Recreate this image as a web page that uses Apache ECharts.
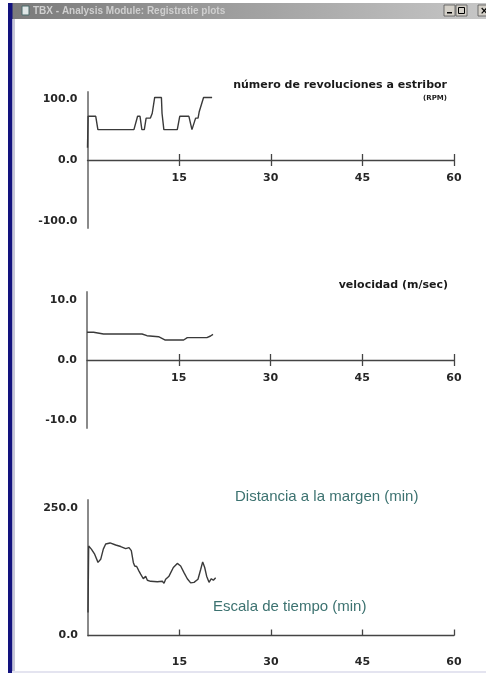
<!DOCTYPE html>
<html>
<head>
<meta charset="utf-8">
<script src="https://cdn.jsdelivr.net/npm/echarts@6/dist/echarts.min.js"></script>
<style>html,body{margin:0;padding:0;background:#fff;}#c{width:486px;height:673px;}</style>
</head>
<body>
<div id="c"></div>
<script>
// ---- data (time in minutes) ----
const rpmTime  = [0,0.1,1.35,1.7,7.6,8.2,8.6,8.9,9.3,9.6,10.3,10.6,10.8,11.0,12.1,12.2,12.5,14.7,15.1,16.6,17.1,17.4,17.7,18.1,18.3,18.6,19.0,20.4];
const rpmValue = [20,72,72,50,50,72,72,50,50,69,69,77,77,103,103,77,50,50,72,72,50,50,69,69,80,80,103,103];

const speedTime  = [0,1.07,2.7,7.1,7.4,8.2,9.0,9.8,11.7,12.8,15.8,16.4,19.6,20.2,20.6];
const speedValue = [4.62,4.62,4.33,4.33,4.05,4.33,4.33,4.05,3.88,3.33,3.33,3.72,3.72,4.0,4.28];

const distTime  = [0,0.11,0.55,1.09,1.64,2.08,2.51,2.90,3.61,4.54,5.36,6.18,6.72,7.10,7.43,7.65,7.98,8.36,8.63,8.91,9.07,9.45,9.73,10.27,11.37,12.19,12.46,12.73,13.28,13.99,14.64,15.19,15.74,16.28,16.83,17.38,18.03,18.47,18.80,19.13,19.45,19.84,20.22,20.55,20.93];
const distValue = [45,175,169,159,143,149,169,179,181,177,174,170,172,166,143,136,135,126,120,122,111,116,108,106,105,106,102,110,116,133,141,136,123,111,103,104,110,129,144,133,116,104,111,108,113];

const xTicks     = [15,30,45,60];
const rpmTicks   = [-100,0,100];
const speedTicks = [-10,0,10];
const distTicks  = [0,250];

const rpmTitle   = 'número de revoluciones a estribor';
const rpmUnit    = '(RPM)';
const speedTitle = 'velocidad (m/sec)';
const distTitle  = 'Distancia a la margen (min)';
const timeTitle  = 'Escala de tiempo (min)';
const windowTitle = 'TBX - Analysis Module: Registratie plots';

// ---- build ----
const zip = (a, b) => a.map((t, i) => [t, b[i]]);
const LBL = {fontFamily: 'DejaVu Sans', fontWeight: 'bold', fontSize: 11, color: '#262626'};
const AXC = '#444';

// bottom-positioned x axis; offset < 0 lifts it to the zero line
function xDown(grid, offset, margin, inside, showLine) {
  return {
    type: 'value', gridIndex: grid, min: 0, max: 60, interval: 15, position: 'bottom', offset: offset,
    axisLine: {show: showLine, onZero: false, lineStyle: {color: AXC, width: 1.3}},
    axisTick: {show: true, inside: inside, length: 6, customValues: xTicks, lineStyle: {color: AXC, width: 1.3}},
    axisLabel: Object.assign({show: true, margin: margin, customValues: xTicks}, LBL),
    splitLine: {show: false}
  };
}
// top-positioned x axis pushed down to the zero line, ticks pointing up
function xUp(grid, offset) {
  return {
    type: 'value', gridIndex: grid, min: 0, max: 60, interval: 15, position: 'top', offset: offset,
    axisLine: {show: false, onZero: false},
    axisTick: {show: true, inside: false, length: 6, customValues: xTicks, lineStyle: {color: AXC, width: 1.3}},
    axisLabel: {show: false},
    splitLine: {show: false}
  };
}
function yAx(grid, min, max, ticks) {
  return {
    type: 'value', gridIndex: grid, min: min, max: max,
    axisLine: {show: true, onZero: false, lineStyle: {color: '#8a8a8a', width: 2}},
    axisTick: {show: false},
    splitLine: {show: false},
    axisLabel: Object.assign({margin: 10, customValues: ticks, formatter: v => Number(v).toFixed(1)}, LBL)
  };
}
function line(xi, yi, data) {
  return {type: 'line', xAxisIndex: xi, yAxisIndex: yi, data: data, showSymbol: false, symbol: 'none',
          lineStyle: {color: '#3a3a3a', width: 1.4}, silent: true};
}

const chart = echarts.init(document.getElementById('c'), null, {renderer: 'canvas'});
chart.setOption({
  animation: false,
  backgroundColor: '#ffffff',
  grid: [
    {left: 87.5, top: 92, width: 366.5, height: 136},
    {left: 87, top: 292, width: 367, height: 136},
    {left: 88, top: 500, width: 366, height: 135.5}
  ],
  xAxis: [
    xDown(0, -68, 12.5, false, true), xUp(0, -68),
    xDown(1, -68, 12.5, false, true), xUp(1, -68),
    xDown(2, 0, 21, true, true)
  ],
  yAxis: [yAx(0, -112, 112, rpmTicks), yAx(1, -11.33, 11.33, speedTicks), yAx(2, 0, 265, distTicks)],
  series: [
    line(0, 0, zip(rpmTime, rpmValue)),
    line(2, 1, zip(speedTime, speedValue)),
    line(4, 2, zip(distTime, distValue))
  ],
  graphic: [
    // window chrome
    {type: 'rect', shape: {x: 8, y: 3, width: 478, height: 16}, silent: true,
     style: {fill: new echarts.graphic.LinearGradient(0, 0, 1, 0, [{offset: 0, color: '#7a7a7a'}, {offset: 1, color: '#c6c6c6'}])}},
    {type: 'rect', shape: {x: 8, y: 3, width: 4.5, height: 670}, style: {fill: '#12127e'}, silent: true},
    {type: 'rect', shape: {x: 12.5, y: 19, width: 2.5, height: 654}, style: {fill: '#c8c8d8'}, silent: true},
    {type: 'rect', shape: {x: 12, y: 671, width: 474, height: 2}, style: {fill: '#e4e4f0'}, silent: true},
    {type: 'rect', shape: {x: 22, y: 6, width: 7, height: 9}, style: {fill: '#dfe6e6', stroke: '#4b6a6a', lineWidth: 1}, silent: true},
    {type: 'text', x: 33, y: 11, silent: true,
     style: {text: windowTitle, fill: '#cfcfcf', font: 'bold 10px "Liberation Sans"', textVerticalAlign: 'middle'}},
    {type: 'rect', shape: {x: 444, y: 5, width: 11, height: 11}, style: {fill: '#d4d0c8', stroke: '#555', lineWidth: 0.8}, silent: true},
    {type: 'rect', shape: {x: 447, y: 12, width: 5, height: 1.5}, style: {fill: '#000'}, silent: true},
    {type: 'rect', shape: {x: 456, y: 5, width: 11, height: 11}, style: {fill: '#d4d0c8', stroke: '#555', lineWidth: 0.8}, silent: true},
    {type: 'rect', shape: {x: 458.5, y: 7.5, width: 6, height: 6}, style: {fill: 'none', stroke: '#000', lineWidth: 1}, silent: true},
    {type: 'rect', shape: {x: 478, y: 5, width: 11, height: 11}, style: {fill: '#d4d0c8', stroke: '#555', lineWidth: 0.8}, silent: true},
    {type: 'text', x: 480, y: 11, silent: true, style: {text: '×', fill: '#000', font: 'bold 10px "DejaVu Sans"', textVerticalAlign: 'middle'}},
    // plot titles
    {type: 'text', x: 447, y: 85, silent: true,
     style: {text: rpmTitle, fill: '#1a1a1a', font: 'bold 11px "DejaVu Sans"', textAlign: 'right', textVerticalAlign: 'middle'}},
    {type: 'text', x: 447, y: 98, silent: true,
     style: {text: rpmUnit, fill: '#1a1a1a', font: 'bold 7px "DejaVu Sans"', textAlign: 'right', textVerticalAlign: 'middle'}},
    {type: 'text', x: 448, y: 285, silent: true,
     style: {text: speedTitle, fill: '#1a1a1a', font: 'bold 11px "DejaVu Sans"', textAlign: 'right', textVerticalAlign: 'middle'}},
    {type: 'text', x: 235, y: 497, silent: true,
     style: {text: distTitle, fill: '#3c7270', font: '15px "Liberation Sans"', textVerticalAlign: 'middle'}},
    {type: 'text', x: 213, y: 607, silent: true,
     style: {text: timeTitle, fill: '#3c7270', font: '15px "Liberation Sans"', textVerticalAlign: 'middle'}}
  ]
});
</script>
</body>
</html>
